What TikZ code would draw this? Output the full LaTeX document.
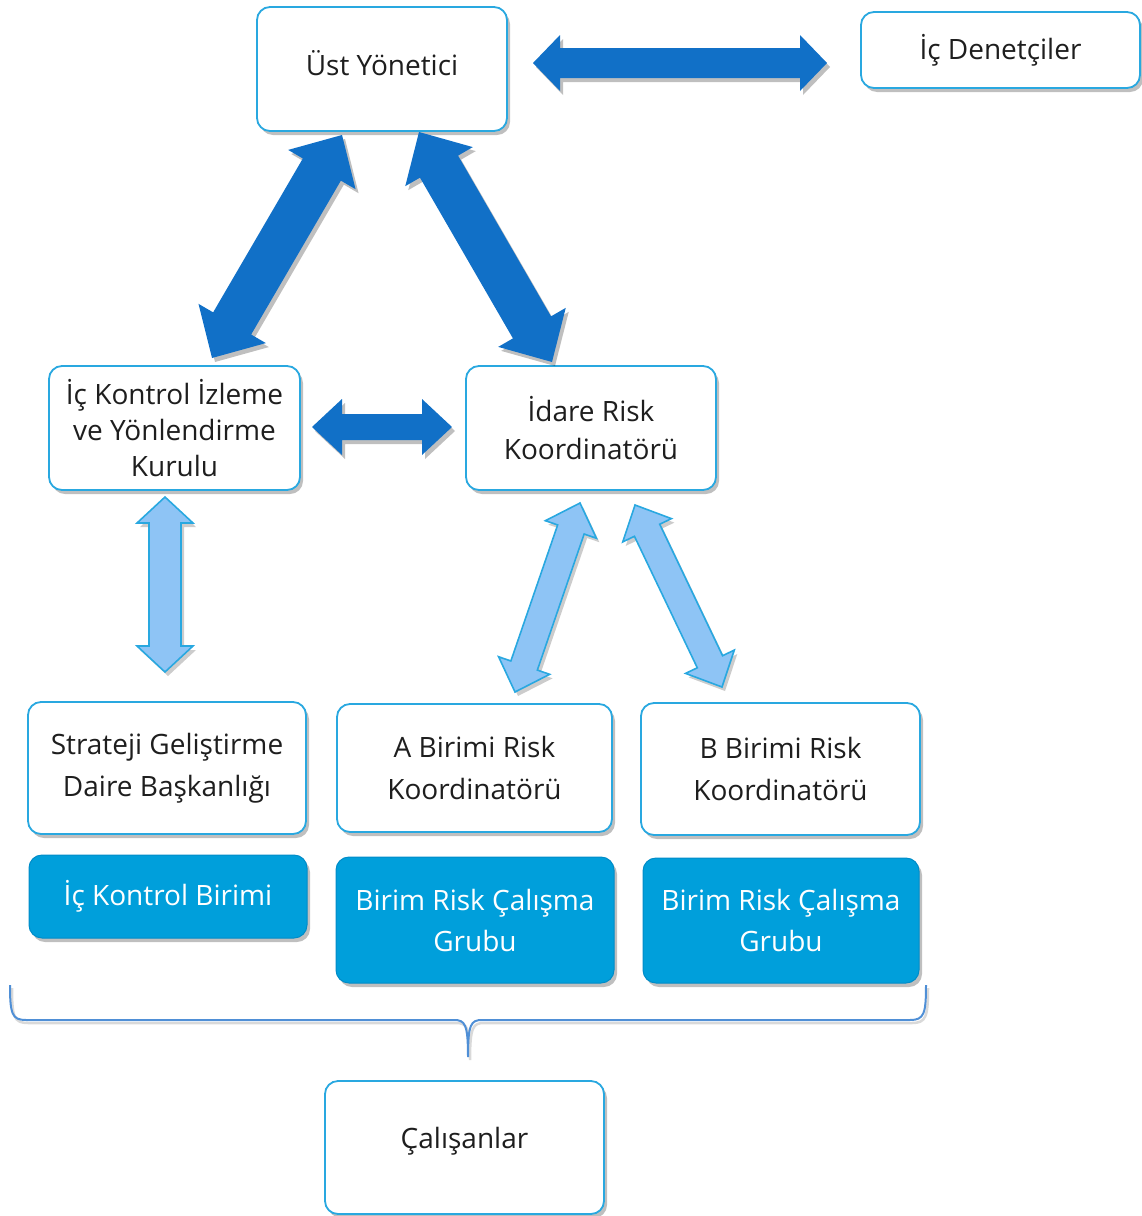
\documentclass[tikz,border=0pt]{standalone}
\usepackage{fontspec}
\setmainfont{Open Sans}
\usetikzlibrary{calc,shadows}
\definecolor{bordercol}{RGB}{41,168,224}
\definecolor{darkarrow}{RGB}{17,112,199}
\definecolor{lightfill}{RGB}{142,196,245}
\definecolor{filledbox}{RGB}{0,159,219}
\definecolor{filledborder}{RGB}{0,140,200}
\definecolor{bracecol}{RGB}{79,143,214}
\definecolor{txt}{RGB}{30,30,30}
\newcommand\blockarrow[6]{%
  \path[#1] (#2)
    -- ($(#2)!#4!(#3)!#5!90:(#3)$)
    -- ($(#2)!#4!(#3)!#6!90:(#3)$)
    -- ($(#3)!#4!(#2)!#6!-90:(#2)$)
    -- ($(#3)!#4!(#2)!#5!-90:(#2)$)
    -- (#3)
    -- ($(#3)!#4!(#2)!#5!90:(#2)$)
    -- ($(#3)!#4!(#2)!#6!90:(#2)$)
    -- ($(#2)!#4!(#3)!#6!-90:(#3)$)
    -- ($(#2)!#4!(#3)!#5!-90:(#3)$)
    -- cycle;}
\tikzset{
  boxshadow/.style={drop shadow={shadow xshift=3pt,shadow yshift=-4pt,opacity=0.25,fill=black}},
  whitebox/.style={rectangle,rounded corners=13pt,draw=bordercol,line width=1.8pt,fill=white,
    align=center,text=txt,font=\fontsize{28}{40}\selectfont,boxshadow},
  bluebox/.style={rectangle,rounded corners=13pt,draw=filledborder,line width=1pt,fill=filledbox,
    align=center,text=white,font=\fontsize{28}{41}\selectfont,boxshadow},
  darkblk/.style={fill=darkarrow,drop shadow={shadow xshift=3pt,shadow yshift=-4pt,opacity=0.25,fill=black}},
  lightblk/.style={fill=lightfill,draw=bordercol,line width=1.6pt,line join=miter,
    drop shadow={shadow xshift=3pt,shadow yshift=-4pt,opacity=0.2,fill=black}},
  bracestyle/.style={draw=bracecol,line width=2pt,
    preaction={draw=black,opacity=0.15,line width=2.5pt,transform canvas={shift={(2pt,-3pt)}}}},
}
\begin{document}
\begin{tikzpicture}[x=1pt,y=-1pt]
\useasboundingbox (0,0) rectangle (1142,1216);
% boxes
\node[whitebox,minimum width=250pt,minimum height=124pt] (ust) at (382,69) {\raisebox{12pt}{Üst Yönetici}};
\node[whitebox,minimum width=279pt,minimum height=76pt] (icd) at (1000.5,50) {İç Denetçiler};
\node[whitebox,minimum width=251pt,minimum height=124pt,font=\fontsize{28}{36}\selectfont] (ikiyk) at (174.5,428) {İç Kontrol İzleme\\ve Yönlendirme\\Kurulu};
\node[whitebox,minimum width=250pt,minimum height=124pt,font=\fontsize{28}{38}\selectfont] (idare) at (591,428) {İdare Risk\\Koordinatörü};
\node[whitebox,minimum width=278pt,minimum height=132pt,font=\fontsize{28}{42}\selectfont] (sgdb) at (167,768) {Strateji Geliştirme\\Daire Başkanlığı};
\node[whitebox,minimum width=275pt,minimum height=128pt,font=\fontsize{28}{42}\selectfont] (abrk) at (474.5,768) {A Birimi Risk\\Koordinatörü};
\node[whitebox,minimum width=279pt,minimum height=132pt,font=\fontsize{28}{42}\selectfont] (bbrk) at (780.5,769) {B Birimi Risk\\Koordinatörü};
\node[bluebox,minimum width=278pt,minimum height=83pt] (ickb) at (168,896.5) {İç Kontrol Birimi};
\node[bluebox,minimum width=278pt,minimum height=126pt] (brcga) at (475,920) {Birim Risk Çalışma\\Grubu};
\node[bluebox,minimum width=276pt,minimum height=125pt] (brcgb) at (781,920.5) {Birim Risk Çalışma\\Grubu};
\node[whitebox,minimum width=279pt,minimum height=133pt] (cal) at (464.5,1147.5) {\raisebox{20pt}{Çalışanlar}};
% arrow end points
\coordinate (t1) at (533,63);   \coordinate (t2) at (827,63);
\coordinate (l1) at (342,135);  \coordinate (l2) at (212,358);
\coordinate (r1) at (419,132);  \coordinate (r2) at (552,362);
\coordinate (m1) at (312,427);  \coordinate (m2) at (452,427);
\coordinate (v1) at (165,497);  \coordinate (v2) at (165,672);
\coordinate (d1) at (580,503);  \coordinate (d2) at (515,692);
\coordinate (e1) at (635,505);  \coordinate (e2) at (722,687);
% dark arrows
\blockarrow{darkblk}{t1}{t2}{27pt}{28pt}{15pt}
\blockarrow{darkblk}{l1}{l2}{40pt}{39pt}{22pt}
\blockarrow{darkblk}{r1}{r2}{40pt}{39pt}{22pt}
\blockarrow{darkblk}{m1}{m2}{30pt}{28pt}{13pt}
% light arrows
\blockarrow{lightblk}{v1}{v2}{26pt}{28pt}{16pt}
\blockarrow{lightblk}{d1}{d2}{28pt}{27pt}{14pt}
\blockarrow{lightblk}{e1}{e2}{28pt}{27pt}{14pt}
% brace
\coordinate (bl) at (10,985); \coordinate (br) at (926,985); \coordinate (bt) at (468,1057);
\path[bracestyle]
  (bl) .. controls (10,1014) and (12,1020) .. (26,1020) -- (454,1020)
  .. controls (465,1020) and (468,1024) .. (bt)
  .. controls (468,1024) and (471,1020) .. (482,1020) -- (910,1020)
  .. controls (924,1020) and (926,1014) .. (br);
\end{tikzpicture}
\end{document}
